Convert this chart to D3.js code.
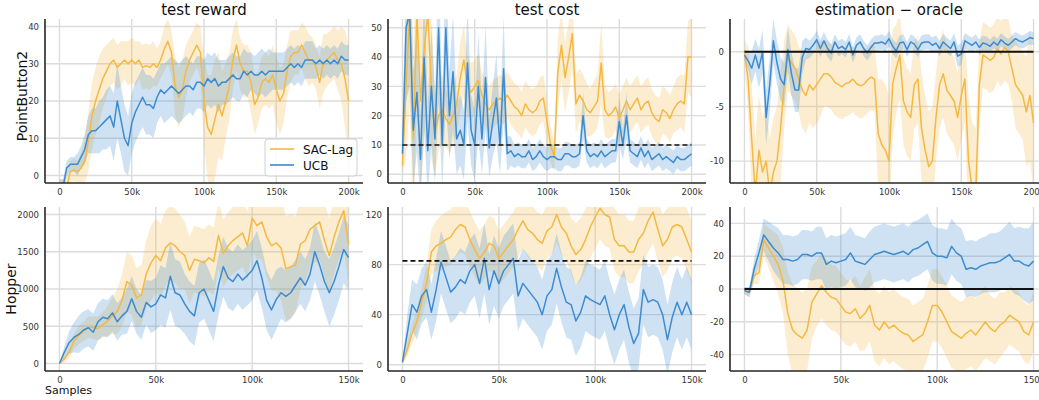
<!DOCTYPE html>
<html>
<head>
<meta charset="utf-8">
<style>
body{margin:0;background:#fff;}
svg text{font-family:"DejaVu Sans",sans-serif;}
</style>
</head>
<body>
<svg id="graph" width="1039" height="400"></svg>
<script src="https://d3js.org/d3.v7.min.js"></script>
<script>
// sample grid (2.5k steps)
var samplesTop = d3.range(0, 200001, 2500);
var samplesBottom = d3.range(0, 150001, 2500);

var seriesNames = ['SAC-Lag', 'UCB'];
var colTitles = ['test reward', 'test cost', 'estimation \u2212 oracle'];
var rowTitles = ['PointButton2', 'Hopper'];

// PointButton2 / test reward
var pbRewardSac = [-3,-3,-3,1,1.5,1,2,4,9,16, 20,23,26,28,30,31,29,30,31,30, 31,30,31,29,29.5,29,30,29,31,34, 36,33,24,21,23,28,31,33,35,33, 20,13,11,15,19,16,20,24,31,35, 30,28,28,25,19,21,25,26,25,27, 23,20,22,28,32,33,33,35,33,31, 31,29,25,30,31,32,33,31,30,26, 20];
var pbRewardSacSd = [2,2,3,3,3,3,4, 6,8,9,9,9,8, 7,6,6,6,6,5,6,6,6,5,6,6,6,6,5,5,6,6,6,8, 8,8,7,6,6,6,7, 12,14,16,16,14,12,10, 9,8,7,7,7,7,8,8,7,7,7,7,8,9,9,8,7,7, 6,6,6,7,7,6,6,7,8,7,7,7,8,10,13,15];
var pbRewardUcb = [-3,-3,2,3,3,3,5,7,11,12, 12,13,14,15,16,13,20,15,10,8, 14,17,19,21,19,19,18,21,23,22, 23,24,23,22,23,24,24,23,25,25, 24,26,25,26,24,25,25,26,27,26, 26,28,27,28,27,27,28,27,28,28, 28,28,28,29,30,29,30,29,31,31, 31,30,31,30,31,30,31,30,32,31, 31];
var pbRewardUcbSd = [2,2,2,2,2,3,3, 4,5,6,6,7,7, 8,8,9,10,9,9,8,8,8,8,8,8,8,8,7,7,8,8,8,8, 8,8,8,7,7,7,7, 7,7,7,7,7,6,6, 6,6,6,6,6,6,5,5,6,6,6,6,5,5,5,5,5,5, 5,5,5,5,5,5,4,4,4,4,4,4,4,4,4,4];

// PointButton2 / test cost
var pbCostSac = [3,30,55,12,55,25,42,55,30,14, 20,22,19,17,20,24,33,39,30,28, 30,32,27,24,22,24,25,26,25,27, 25,23,22,20,24,22,21,22,25,26, 18,10,6,35,44,33,40,48,24,27, 25,22,21,23,25,38,22,20,21,23, 19,22,25,22,24,26,22,24,25,21, 19,18,22,21,19,22,24,25,24,40, 40];
var pbCostSacSd = [3,25,30,30,30,30,30,30,25,15, 12,12,10,10,10,10,12,12,10,10, 9,9,8,8,8,8,8,8,8,8, 8,8,8,8,8,8,8,8,8,8, 8,6,5,12,12,12,12,12,10,9, 9,9,8,9,9,14,9,8,8,8, 8,8,8,8,8,8,8,8,8,8, 8,8,8,8,8,8,9,9,10,12, 14];
var pbCostUcb = [7,50,55,15,28,5,40,8,30,12, 50,10,50,20,35,12,15,10,38,15, 10,30,12,33,9,18,26,10,36,7, 8,6,7,6,6,8,5,6,8,6, 5,6,6,5,5,7,7,6,6,7, 20,8,6,7,6,8,6,7,8,8, 18,10,20,8,7,6,9,6,8,5, 6,7,5,6,5,4,6,5,5,6, 7];
var pbCostUcbSd = [5,25,25,20,20,15,25,15,20,15, 25,15,25,15,20,12,12,12,20,12, 12,18,12,18,10,12,15,10,18,6, 5,4,4,4,4,4,4,4,4,4, 4,4,4,4,4,4,4,4,4,4, 8,4,4,4,4,4,4,4,4,4, 8,5,8,4,4,4,4,4,4,4, 4,4,4,4,4,4,4,4,4,4, 4];
var pbCostLimit = 10;

// PointButton2 / estimation - oracle
var pbEstSac = [0,-2.5,-8,-13,-9,-11,-10,-13,-11,-10, -7,-3,-0.5,-1,-1.5,-2.5,-3.5,-4,-3,-3.5, -3,-2.5,-2,-2,-2.3,-2.8,-3,-3.2,-2.9,-2.8, -2.5,-2.9,-3.1,-3,-2.6,-2.3,-2.5,-7.5,-8.5,-9, -10,-3,-1.5,-0.3,-4.5,-5.5,-6,-3,-2.5,-7, -9,-10.5,-10,-6,-3,-2,-3.5,-4,-4.5,-6, -4,-2.5,-10,-12.5,-13,-3,-0.3,-0.5,-0.8,-0.5, 0.3,-0.2,0.4,0,-1.5,-3,-3.5,-4,-5.5,-4, -6.5];
var pbEstSacSd = [1,3,5,5,5,5,5,5,5,5, 5,4,3,3,3,3,3.5,3.5,3.5,3.5, 3.5,3.5,3,3,3,3,3,3,3,3, 3,3,3,3,3,3,3,5,6,6, 6,5,4,4,4,4,4,4,4,5, 5,5,5,4,4,4,4,4,4,4, 4,4,6,6,6,4,3,3,3,3, 3,3,3,3,3,4,4,4,5,6, 6];
var pbEstUcb = [-0.3,-0.8,-1.5,-0.3,-1.5,0,-6,-3,1,-1, -2.5,-3,0.2,-2,-3.5,-3.5,-0.5,0.3,0.2,0.6, 1.1,0.3,1,0.3,-0.1,0.9,0.3,0.5,0.2,0.9, -0.3,0.6,0.9,0.3,-0.1,0.4,0.8,0.8,0.9,0.7, 1.2,0.5,0.1,0.8,0.9,0.2,0.9,0.7,0.2,0.8, 0.9,0.9,0.6,0.8,0.3,0.9,0.6,0.3,0.9,-0.4, -0.2,1,0.8,0.6,0.9,0.4,0.8,0.7,0.5,0.9, 0.6,1.1,0.8,0.6,0.9,1.2,1,0.9,1.1,1.3, 1.2];
var pbEstUcbSd = [0.5,0.8,1.5,1.5,1.8,2,2.5,2.5,2,2, 2,2,2,2,2,2,1.5,1,0.8,0.8, 0.8,0.8,0.8,0.8,0.8,0.7,0.7,0.7,0.7,0.7, 0.7,0.7,0.7,0.7,0.7,0.7,0.7,0.7,0.7,0.7, 0.7,0.7,0.7,0.7,0.7,0.7,0.7,0.7,0.7,0.7, 0.7,0.7,0.7,0.7,0.7,0.7,0.7,0.7,0.8,1, 1,0.7,0.7,0.7,0.7,0.7,0.7,0.7,0.6,0.6, 0.6,0.6,0.6,0.6,0.6,0.6,0.6,0.6,0.6,0.6, 0.6];

// Hopper / test reward
var hopRewardSac = [0,60,150,300,380,430,490,480,470,520, 570,640,700,850,1100,1050,880,920,1200,1350, 1450,1380,1550,1620,1580,1500,1450,1250,1400,1380, 1350,1420,1370,1720,1480,1580,1650,1700,1750,1580, 1950,1850,1900,1700,1580,1620,1550,1270,1300,1320, 1600,1650,1800,1850,1900,1650,1450,1700,1900,2050, 1600];
var hopRewardSacSd = [0,50,80,100,120,130,140,150,160,170, 200,250,300,350,400,400,400,400,450,500, 500,500,500,500,500,500,450,450,450,450, 450,450,450,450,450,450,450,450,450,450, 450,450,500,550,600,650,700,700,700,650, 600,550,500,500,500,500,500,500,500,500, 550];
var hopRewardUcb = [0,150,280,350,390,450,480,420,560,620, 600,680,560,640,700,870,700,620,820,760, 800,920,880,1170,950,920,800,700,640,950, 1000,850,700,1050,1300,1150,1100,1200,1120,1180, 1250,1380,1150,850,720,860,950,900,950,1050, 1150,1050,1200,1500,1320,1100,950,1100,1300,1530, 1420];
var hopRewardUcbSd = [0,80,150,200,250,250,250,250,250,250, 250,250,250,250,300,300,300,300,300,350, 350,400,400,450,450,450,400,400,400,400, 400,400,400,400,400,400,400,400,400,400, 400,400,400,400,400,400,350,350,350,350, 350,350,350,400,400,400,450,450,450,450, 450];

// Hopper / test cost
var hopCostSac = [2,12,25,35,50,65,90,95,97,100, 102,108,112,110,100,92,85,90,97,95, 85,90,95,100,108,115,108,105,100,97, 107,110,120,110,105,95,88,92,100,110, 118,125,120,118,100,95,95,90,90,100, 105,115,122,108,95,100,110,112,110,100, 90];
var hopCostSacSd = [1,5,8,10,12,15,18,20,22,22, 22,22,22,22,22,22,22,22,22,22, 22,22,22,22,22,22,22,22,22,22, 22,22,22,22,22,22,25,25,25,25, 25,25,25,25,25,25,25,25,25,25, 25,25,25,25,25,25,25,25,25,25, 25];
var hopCostUcb = [2,25,48,42,55,60,42,60,82,70, 58,62,68,65,75,80,65,85,60,75, 65,75,80,85,55,65,60,55,50,40, 55,60,77,62,50,48,35,42,55,52, 50,48,55,40,28,40,48,30,17,25, 60,50,52,50,40,20,38,50,40,50, 40];
var hopCostUcbSd = [1,15,20,22,22,22,22,25,25,25, 25,25,25,25,25,25,28,28,28,28, 28,28,28,28,28,28,28,28,28,28, 28,28,28,28,28,28,28,28,28,28, 28,28,28,28,28,28,28,28,28,28, 28,28,28,28,28,28,28,28,28,28, 28];
var hopCostLimit = 83;

// Hopper / estimation - oracle
var hopEstSac = [-1,-2,8,10,30,25,20,15,5,-15, -25,-28,-30,-25,-8,-3,2,-2,-5,-6, -10,-14,-15,-12,-18,-15,-10,-22,-25,-20, -24,-22,-25,-27,-28,-32,-30,-28,-20,-10, -10,-14,-20,-26,-28,-30,-27,-25,-28,-24, -20,-24,-26,-22,-20,-16,-18,-20,-26,-28, -20];
var hopEstSacSd = [2,3,5,7,10,12,15,18,20,25, 28,28,28,25,22,20,20,20,20,20, 20,20,20,20,20,22,22,22,22,22, 22,22,22,22,22,22,22,22,22,22, 22,22,22,22,22,22,22,22,22,22, 22,20,20,20,18,18,18,18,18,18, 18];
var hopEstUcb = [-1,-2,12,22,33,29,25,22,18,18, 17,18,21,21,20,22,22,15,17,16, 17,18,22,17,16,15,18,21,22,23, 22,21,22,23,21,24,25,27,29,22, 20,20,19,26,22,20,12,13,12,14, 15,16,16,17,19,21,17,17,15,14, 17];
var hopEstUcbSd = [2,3,6,8,10,12,14,15,15,15, 15,15,15,15,15,16,16,16,16,16, 16,16,16,16,16,16,17,17,17,17, 17,17,17,17,17,17,17,17,17,17, 17,17,17,17,17,17,17,17,17,17, 17,18,18,18,19,20,20,21,22,23, 24];

var yTicksList = [[0,10,20,30,40],[0,10,20,30,40,50],[-10,-5,0],[0,500,1000,1500,2000],[0,40,80,120],[-40,-20,0,20,40]];
var xTicksTop = [0,50000,100000,150000,200000];
var xTicksBottom = [0,50000,100000,150000];

var colors = {sac:'#f4b942', ucb:'#3d8bd0'};

var panels = [
  {row:0,col:0,xs:samplesTop,sac:pbRewardSac,sacSd:pbRewardSacSd,ucb:pbRewardUcb,ucbSd:pbRewardUcbSd,y:[-2,42],yt:yTicksList[0],ref:null},
  {row:0,col:1,xs:samplesTop,sac:pbCostSac,sacSd:pbCostSacSd,ucb:pbCostUcb,ucbSd:pbCostUcbSd,y:[-3,53],yt:yTicksList[1],ref:pbCostLimit,dash:true},
  {row:0,col:2,xs:samplesTop,sac:pbEstSac,sacSd:pbEstSacSd,ucb:pbEstUcb,ucbSd:pbEstUcbSd,y:[-12,3],yt:yTicksList[2],ref:0,dash:false},
  {row:1,col:0,xs:samplesBottom,sac:hopRewardSac,sacSd:hopRewardSacSd,ucb:hopRewardUcb,ucbSd:hopRewardUcbSd,y:[-100,2100],yt:yTicksList[3],ref:null},
  {row:1,col:1,xs:samplesBottom,sac:hopCostSac,sacSd:hopCostSacSd,ucb:hopCostUcb,ucbSd:hopCostUcbSd,y:[-5,126],yt:yTicksList[4],ref:hopCostLimit,dash:true},
  {row:1,col:2,xs:samplesBottom,sac:hopEstSac,sacSd:hopEstSacSd,ucb:hopEstUcb,ucbSd:hopEstUcbSd,y:[-50,50],yt:yTicksList[5],ref:0,dash:false}
];

var colLeft = [45, 388, 730];
var panelW = 318;
var rowTop = [19, 207];
var panelH = 164;
// y-label placement (baseline x, centre y) per row
var rowLabelPos = [[27, 96], [16, 289]];

var svg = d3.select('#graph');
var fmtK = function(d){ return d === 0 ? '0' : (d/1000) + 'k'; };

panels.forEach(function(p, i){
  var x0 = colLeft[p.col], y0 = rowTop[p.row];
  var maxX = p.row === 0 ? 200000 : 150000;
  var pad = maxX * 0.05;
  var x = d3.scaleLinear().domain([-pad, maxX + pad]).range([x0, x0 + panelW]);
  var y = d3.scaleLinear().domain(p.y).range([y0 + panelH, y0]);
  var xt = p.row === 0 ? xTicksTop : xTicksBottom;

  var g = svg.append('g');
  svg.append('clipPath').attr('id', 'clip' + i)
    .append('rect').attr('x', x0).attr('y', y0).attr('width', panelW).attr('height', panelH);

  // grid
  g.selectAll('.gx').data(xt).enter().append('line')
    .attr('x1', function(d){return x(d);}).attr('x2', function(d){return x(d);})
    .attr('y1', y0).attr('y2', y0 + panelH)
    .attr('stroke', '#dcdcdc').attr('stroke-width', 1.4);
  g.selectAll('.gy').data(p.yt).enter().append('line')
    .attr('x1', x0).attr('x2', x0 + panelW)
    .attr('y1', function(d){return y(d);}).attr('y2', function(d){return y(d);})
    .attr('stroke', '#dcdcdc').attr('stroke-width', 1.4);

  var plot = g.append('g').attr('clip-path', 'url(#clip' + i + ')');
  var series = [
    {m:p.sac, sd:p.sacSd, c:colors.sac},
    {m:p.ucb, sd:p.ucbSd, c:colors.ucb}
  ];
  series.forEach(function(s){
    var pts = p.xs.map(function(v, j){ return {x:v, m:s.m[j], sd:s.sd[j]}; });
    plot.append('path').datum(pts)
      .attr('fill', s.c).attr('fill-opacity', 0.25).attr('stroke', 'none')
      .attr('d', d3.area()
        .x(function(d){return x(d.x);})
        .y0(function(d){return y(d.m - d.sd);})
        .y1(function(d){return y(d.m + d.sd);}));
  });
  series.forEach(function(s){
    var pts = p.xs.map(function(v, j){ return {x:v, m:s.m[j]}; });
    plot.append('path').datum(pts)
      .attr('fill', 'none').attr('stroke', s.c).attr('stroke-width', 1.5)
      .attr('stroke-linejoin', 'round')
      .attr('d', d3.line().x(function(d){return x(d.x);}).y(function(d){return y(d.m);}));
  });

  if (p.ref !== null) {
    plot.append('line')
      .attr('x1', x(0)).attr('x2', x(maxX))
      .attr('y1', y(p.ref)).attr('y2', y(p.ref))
      .attr('stroke', '#111').attr('stroke-width', p.dash ? 1.6 : 2)
      .attr('stroke-dasharray', p.dash ? '5,3' : null);
  }

  // axes
  var xa = g.append('g').attr('transform', 'translate(0,' + (y0 + panelH) + ')')
    .call(d3.axisBottom(x).tickValues(xt).tickFormat(fmtK).tickSize(0).tickPadding(6));
  var ya = g.append('g').attr('transform', 'translate(' + x0 + ',0)')
    .call(d3.axisLeft(y).tickValues(p.yt).tickFormat(function(d){return String(d);}).tickSize(0).tickPadding(6));
  [xa, ya].forEach(function(a){
    a.select('.domain').attr('stroke', '#262626').attr('stroke-width', 1.6);
    a.selectAll('text').attr('font-size', '8.5px').attr('fill', '#333')
      .attr('font-family', '"DejaVu Sans",sans-serif');
  });
  xa.select('.domain').attr('d', 'M' + x0 + ',0H' + (x0 + panelW));
  ya.select('.domain').attr('d', 'M0,' + y0 + 'V' + (y0 + panelH));

  if (p.row === 0) {
    svg.append('text').attr('x', x0 + panelW / 2).attr('y', 15)
      .attr('text-anchor', 'middle').attr('font-size', '15px').attr('fill', '#111')
      .text(colTitles[p.col]);
  }
  if (p.col === 0) {
    var lp = rowLabelPos[p.row];
    svg.append('text')
      .attr('transform', 'translate(' + lp[0] + ',' + lp[1] + ') rotate(-90)')
      .attr('text-anchor', 'middle').attr('font-size', '14px').attr('fill', '#111')
      .text(rowTitles[p.row]);
  }
});

svg.append('text').attr('x', 45).attr('y', 394)
  .attr('font-size', '11px').attr('fill', '#111').text('Samples');

// legend
var lg = svg.append('g').attr('transform', 'translate(265,139)');
lg.append('rect').attr('width', 92).attr('height', 37).attr('rx', 3)
  .attr('fill', '#fff').attr('fill-opacity', 0.85).attr('stroke', '#d0d0d0');
seriesNames.forEach(function(n, i){
  var c = i === 0 ? colors.sac : colors.ucb;
  lg.append('line').attr('x1', 5).attr('x2', 29).attr('y1', 10 + i * 16).attr('y2', 10 + i * 16)
    .attr('stroke', c).attr('stroke-width', 1.6);
  lg.append('text').attr('x', 38).attr('y', 14.5 + i * 16).attr('font-size', '12px').attr('fill', '#111').text(n);
});
</script>
</body>
</html>
